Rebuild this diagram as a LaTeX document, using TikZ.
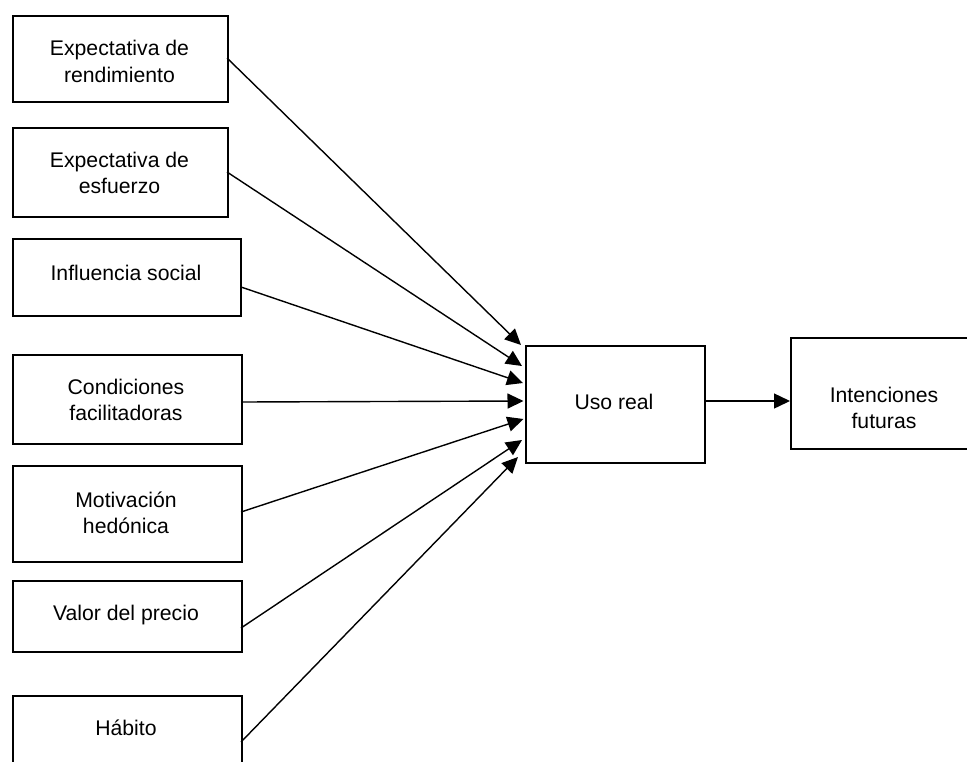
\documentclass[tikz,border=0pt]{standalone}
\usepackage{fontspec}
\setmainfont{Liberation Sans}
\usetikzlibrary{arrows.meta}
\tikzset{
  box/.style={draw=black, line width=1.8pt, rectangle, inner sep=0pt, anchor=north west},
  txt/.style={align=center, font=\fontsize{21.2}{26.5}\selectfont, inner sep=0pt},
  conn/.style={draw=black, line width=1.4pt, -{Triangle[length=16pt,width=15pt]}}
}
\begin{document}
\begin{tikzpicture}[x=1pt,y=-1pt]
\clip (0,0) rectangle (967,761);
\fill[white] (0,0) rectangle (967,761);
% left boxes
\node[box, minimum width=215pt, minimum height=86pt] (b1) at (12,15) {};
\node[txt] (t1) at (119.5,61.5) {Expectativa de\\rendimiento};
\node[box, minimum width=215pt, minimum height=89pt] (b2) at (12,127) {};
\node[txt] (t2) at (119.5,173) {Expectativa de\\esfuerzo};
\node[box, minimum width=228pt, minimum height=77pt] (b3) at (12,238) {};
\node[txt] (t3) at (126,273) {Influencia social};
\node[box, minimum width=229pt, minimum height=89pt] (b4) at (12,354) {};
\node[txt] (t4) at (126,400) {Condiciones\\facilitadoras};
\node[box, minimum width=229pt, minimum height=96pt] (b5) at (12,465) {};
\node[txt] (t5) at (126,513) {Motivación\\hedónica};
\node[box, minimum width=229pt, minimum height=71pt] (b6) at (12,580) {};
\node[txt] (t6) at (126,615) {Valor del precio};
\node[box, minimum width=229pt, minimum height=70pt] (b7) at (12,695) {};
\node[txt] (t7) at (126,728) {Hábito};
% center and right boxes
\node[box, minimum width=179pt, minimum height=117pt] (u) at (525,345) {};
\node[txt] (tu) at (614,402) {Uso real};
\node[box, minimum width=190pt, minimum height=111pt] (f) at (790,337) {};
\node[txt] (tf) at (884,408) {Intenciones\\futuras};
% connector end points
\coordinate (s1) at (227,58);
\coordinate (s2) at (227,172);
\coordinate (s3) at (241,287);
\coordinate (s4) at (241,402);
\coordinate (s5) at (241,512);
\coordinate (s6) at (241,628);
\coordinate (s7) at (241,742);
\coordinate (e1) at (521,345);
\coordinate (e2) at (522,366);
\coordinate (e3) at (523,383);
\coordinate (e4) at (523.5,401);
\coordinate (e5) at (523.5,419);
\coordinate (e6) at (522,440);
\coordinate (e7) at (518,457);
\coordinate (uo) at (704,401);
\coordinate (fi) at (790,401);
\draw[conn] (s1) -- (e1);
\draw[conn] (s2) -- (e2);
\draw[conn] (s3) -- (e3);
\draw[conn] (s4) -- (e4);
\draw[conn] (s5) -- (e5);
\draw[conn] (s6) -- (e6);
\draw[conn] (s7) -- (e7);
\draw[conn] (uo) -- (fi);
\end{tikzpicture}
\end{document}
